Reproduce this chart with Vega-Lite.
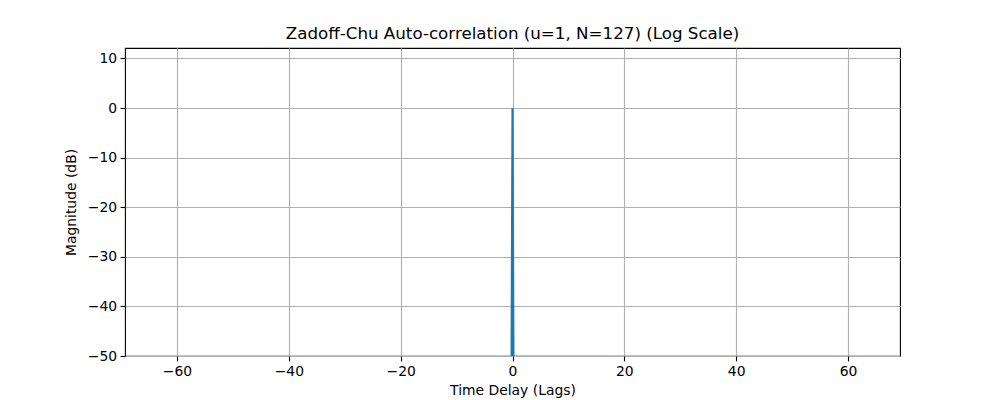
{
  "$schema": "https://vega.github.io/schema/vega-lite/v6.json",
  "autosize": {"type": "none"},
  "width": 775,
  "height": 308,
  "padding": {"left": 125, "top": 48, "right": 100, "bottom": 44},
  "background": "white",
  "config": {
    "font": "DejaVu Sans",
    "view": {"stroke": "black", "strokeWidth": 1.1},
    "axis": {
      "labelFont": "DejaVu Sans", "labelFontSize": 13.9, "labelColor": "black",
      "titleFont": "DejaVu Sans", "titleFontSize": 13.9, "titleFontWeight": "normal", "titleColor": "black",
      "tickColor": "black", "tickSize": 4.9, "tickWidth": 1.1, "labelPadding": 3.5,
      "domain": false, "gridColor": "#b0b0b0", "gridWidth": 1.1, "gridOpacity": 1
    }
  },
  "title": {"text": "Zadoff-Chu Auto-correlation (u=1, N=127) (Log Scale)", "font": "DejaVu Sans", "fontSize": 16.7, "fontWeight": "normal", "color": "black", "anchor": "middle", "offset": 5},
  "data": {"values": [
    {"lag": -63, "db": -300}, {"lag": -62, "db": -300}, {"lag": -61, "db": -300}, {"lag": -60, "db": -300},
    {"lag": -59, "db": -300}, {"lag": -58, "db": -300}, {"lag": -57, "db": -300}, {"lag": -56, "db": -300},
    {"lag": -55, "db": -300}, {"lag": -54, "db": -300}, {"lag": -53, "db": -300}, {"lag": -52, "db": -300},
    {"lag": -51, "db": -300}, {"lag": -50, "db": -300}, {"lag": -49, "db": -300}, {"lag": -48, "db": -300},
    {"lag": -47, "db": -300}, {"lag": -46, "db": -300}, {"lag": -45, "db": -300}, {"lag": -44, "db": -300},
    {"lag": -43, "db": -300}, {"lag": -42, "db": -300}, {"lag": -41, "db": -300}, {"lag": -40, "db": -300},
    {"lag": -39, "db": -300}, {"lag": -38, "db": -300}, {"lag": -37, "db": -300}, {"lag": -36, "db": -300},
    {"lag": -35, "db": -300}, {"lag": -34, "db": -300}, {"lag": -33, "db": -300}, {"lag": -32, "db": -300},
    {"lag": -31, "db": -300}, {"lag": -30, "db": -300}, {"lag": -29, "db": -300}, {"lag": -28, "db": -300},
    {"lag": -27, "db": -300}, {"lag": -26, "db": -300}, {"lag": -25, "db": -300}, {"lag": -24, "db": -300},
    {"lag": -23, "db": -300}, {"lag": -22, "db": -300}, {"lag": -21, "db": -300}, {"lag": -20, "db": -300},
    {"lag": -19, "db": -300}, {"lag": -18, "db": -300}, {"lag": -17, "db": -300}, {"lag": -16, "db": -300},
    {"lag": -15, "db": -300}, {"lag": -14, "db": -300}, {"lag": -13, "db": -300}, {"lag": -12, "db": -300},
    {"lag": -11, "db": -300}, {"lag": -10, "db": -300}, {"lag": -9, "db": -300}, {"lag": -8, "db": -300},
    {"lag": -7, "db": -300}, {"lag": -6, "db": -300}, {"lag": -5, "db": -300}, {"lag": -4, "db": -300},
    {"lag": -3, "db": -300}, {"lag": -2, "db": -300}, {"lag": -1, "db": -300}, {"lag": 0, "db": 0},
    {"lag": 1, "db": -300}, {"lag": 2, "db": -300}, {"lag": 3, "db": -300}, {"lag": 4, "db": -300},
    {"lag": 5, "db": -300}, {"lag": 6, "db": -300}, {"lag": 7, "db": -300}, {"lag": 8, "db": -300},
    {"lag": 9, "db": -300}, {"lag": 10, "db": -300}, {"lag": 11, "db": -300}, {"lag": 12, "db": -300},
    {"lag": 13, "db": -300}, {"lag": 14, "db": -300}, {"lag": 15, "db": -300}, {"lag": 16, "db": -300},
    {"lag": 17, "db": -300}, {"lag": 18, "db": -300}, {"lag": 19, "db": -300}, {"lag": 20, "db": -300},
    {"lag": 21, "db": -300}, {"lag": 22, "db": -300}, {"lag": 23, "db": -300}, {"lag": 24, "db": -300},
    {"lag": 25, "db": -300}, {"lag": 26, "db": -300}, {"lag": 27, "db": -300}, {"lag": 28, "db": -300},
    {"lag": 29, "db": -300}, {"lag": 30, "db": -300}, {"lag": 31, "db": -300}, {"lag": 32, "db": -300},
    {"lag": 33, "db": -300}, {"lag": 34, "db": -300}, {"lag": 35, "db": -300}, {"lag": 36, "db": -300},
    {"lag": 37, "db": -300}, {"lag": 38, "db": -300}, {"lag": 39, "db": -300}, {"lag": 40, "db": -300},
    {"lag": 41, "db": -300}, {"lag": 42, "db": -300}, {"lag": 43, "db": -300}, {"lag": 44, "db": -300},
    {"lag": 45, "db": -300}, {"lag": 46, "db": -300}, {"lag": 47, "db": -300}, {"lag": 48, "db": -300},
    {"lag": 49, "db": -300}, {"lag": 50, "db": -300}, {"lag": 51, "db": -300}, {"lag": 52, "db": -300},
    {"lag": 53, "db": -300}, {"lag": 54, "db": -300}, {"lag": 55, "db": -300}, {"lag": 56, "db": -300},
    {"lag": 57, "db": -300}, {"lag": 58, "db": -300}, {"lag": 59, "db": -300}, {"lag": 60, "db": -300},
    {"lag": 61, "db": -300}, {"lag": 62, "db": -300}, {"lag": 63, "db": -300}
  ]},
  "mark": {"type": "line", "color": "#1f77b4", "strokeWidth": 2.1, "clip": true},
  "encoding": {
    "x": {"field": "lag", "type": "quantitative", "title": "Time Delay (Lags)",
      "scale": {"domain": [-69.3, 69.3], "nice": false, "zero": false},
      "axis": {"values": [-60, -40, -20, 0, 20, 40, 60], "titlePadding": 5}},
    "y": {"field": "db", "type": "quantitative", "title": "Magnitude (dB)",
      "scale": {"domain": [-50, 12.1], "nice": false, "zero": false},
      "axis": {"values": [-50, -40, -30, -20, -10, 0, 10], "titlePadding": 9}}
  }
}
